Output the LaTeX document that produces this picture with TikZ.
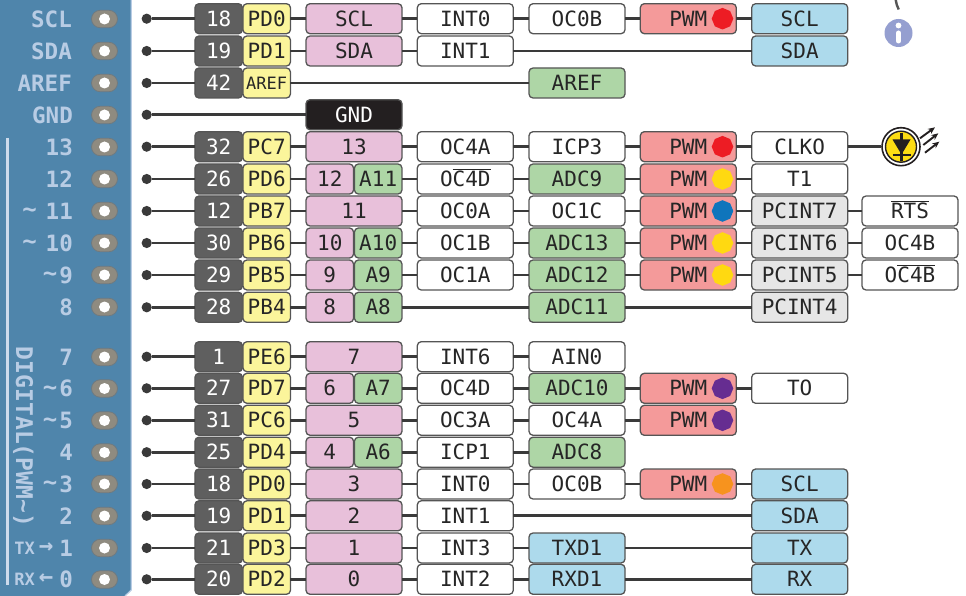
\documentclass[tikz,border=0pt]{standalone}
\usepackage{fontspec}
\setmainfont{DejaVu Sans Mono}
\usetikzlibrary{shapes.geometric,shapes.misc,arrows.meta}
\definecolor{panelblue}{HTML}{4F85AB}
\definecolor{panelink}{HTML}{B8CCE4}
\definecolor{boxline}{HTML}{555555}
\definecolor{wire}{HTML}{3A3A3A}
\definecolor{boxink}{HTML}{262626}
\definecolor{padfill}{HTML}{8F8B80}
\definecolor{padline}{HTML}{6F7A80}
\definecolor{numfill}{HTML}{5F5F5F}
\definecolor{portfill}{HTML}{FBF59B}
\definecolor{pink1}{HTML}{E8C0DA}
\definecolor{green1}{HTML}{AED6A6}
\definecolor{red1}{HTML}{F49A9A}
\definecolor{blue1}{HTML}{ADDAEC}
\definecolor{gray1}{HTML}{E6E6E6}
\definecolor{black1}{HTML}{231F20}
\definecolor{pwmred}{HTML}{ED1C24}
\definecolor{pwmyellow}{HTML}{FFD911}
\definecolor{pwmblue}{HTML}{0F75BC}
\definecolor{pwmpurple}{HTML}{662D91}
\definecolor{pwmorange}{HTML}{F7931E}
\definecolor{infoblue}{HTML}{959FD0}
\definecolor{ledyellow}{HTML}{FCDC14}
\tikzset{
  box/.style={draw=boxline,line width=1.3pt,rounded corners=4pt,inner sep=0pt,outer sep=0pt,
    minimum height=30pt,minimum width=96pt,text height=15.2pt,text depth=0pt,text=boxink,
    font=\fontsize{21}{21}\selectfont},
  numbox/.style={box,fill=numfill,text=white,minimum width=47.5pt},
  portbox/.style={box,fill=portfill,minimum width=47.5pt},
  smallport/.style={portbox,text height=12.4pt,font=\fontsize{17}{17}\selectfont},
  pinbox/.style={box,fill=pink1},
  halfpin/.style={box,fill=pink1,minimum width=47.5pt},
  halfana/.style={box,fill=green1,minimum width=47.5pt},
  blackbox/.style={box,fill=black1,text=white},
  plainbox/.style={box,fill=white},
  anabox/.style={box,fill=green1},
  pwmbox/.style={box,fill=red1},
  busbox/.style={box,fill=blue1},
  intbox/.style={box,fill=gray1},
  pwmdot/.style={regular polygon,regular polygon sides=8,shape border rotate=22.5,inner sep=0pt,minimum size=21.6pt},
  wirel/.style={line width=2.7pt,color=wire},
  enddot/.style={circle,fill=wire,inner sep=0pt,minimum size=10.2pt},
  pad/.style={rounded rectangle,draw=padline,line width=0.8pt,fill=padfill,minimum width=26pt,minimum height=17.5pt,inner sep=0pt},
  hole/.style={circle,fill=white,inner sep=0pt,minimum size=11pt},
  pinlabel/.style={anchor=east,inner sep=0pt,text=panelink,font=\fontsize{22.5}{22.5}\selectfont\bfseries},
  tilde/.style={inner sep=0pt,text=panelink,font=\fontsize{24}{24}\selectfont\bfseries},
  txlabel/.style={anchor=east,inner sep=0pt,text=panelink,font=\fontsize{17}{17}\selectfont\bfseries}
}
\begin{document}
\begin{tikzpicture}[x=1pt,y=-1pt]
\useasboundingbox (0,0) rectangle (966,596);
\fill[panelblue] (0,0)--(131,0)--(131,590)--(125,596)--(0,596)--cycle;
\draw[panelink,line width=1.2pt] (131.3,0)--(131.3,590)--(125,596);
\draw[panelink!70!white,line width=2.7pt] (7.5,138)--(7.5,585);
\node [pinlabel,font=\fontsize{23}{23}\selectfont\bfseries,anchor=center,rotate=-90,name=digital] at (23.3,437){DIGITAL(PWM\textasciitilde)};
% panel labels
\node [pinlabel,name=l1] at (72,19){SCL};
\node [pinlabel,name=l2] at (72,51){SDA};
\node [pinlabel,name=l3] at (72,83){AREF};
\node [pinlabel,name=l4] at (73,115){GND};
\node [pinlabel,name=l5] at (73,147){13};
\node [pinlabel,name=l6] at (73,179){12};
\node [pinlabel,name=l7] at (73,211){11};
\node [pinlabel,name=l8] at (73,243){10};
\node [pinlabel,name=l9] at (73,275){9};
\node [pinlabel,name=l10] at (73,307){8};
\node [pinlabel,name=l11] at (73,357){7};
\node [pinlabel,name=l12] at (73,388.5){6};
\node [pinlabel,name=l13] at (73,420.5){5};
\node [pinlabel,name=l14] at (73,452.5){4};
\node [pinlabel,name=l15] at (73,484){3};
\node [pinlabel,name=l16] at (73,516){2};
\node [pinlabel,name=l17] at (73,548){1};
\node [pinlabel,name=l18] at (73,579.5){0};
\node [tilde,name=m7] at (29.5,213){\textasciitilde};
\node [tilde,name=m8] at (29.5,245){\textasciitilde};
\node [tilde,name=m9] at (50,277){\textasciitilde};
\node [tilde,name=m12] at (50,390.5){\textasciitilde};
\node [tilde,name=m13] at (50,422.5){\textasciitilde};
\node [tilde,name=m15] at (50,486){\textasciitilde};
\node [txlabel,name=tx] at (35,548){TX};
\node [tilde,name=txa] at (46,548){→};
\node [txlabel,name=rx] at (35,579.5){RX};
\node [tilde,name=rxa] at (46,579.5){←};
% pads
\node [pad,name=h1] at (104.5,19){};
\node [pad,name=h2] at (104.5,51){};
\node [pad,name=h3] at (104.5,83){};
\node [pad,name=h4] at (104.5,115){};
\node [pad,name=h5] at (104.5,147){};
\node [pad,name=h6] at (104.5,179){};
\node [pad,name=h7] at (104.5,211){};
\node [pad,name=h8] at (104.5,243){};
\node [pad,name=h9] at (104.5,275){};
\node [pad,name=h10] at (104.5,307){};
\node [pad,name=h11] at (104.5,357){};
\node [pad,name=h12] at (104.5,388.5){};
\node [pad,name=h13] at (104.5,420.5){};
\node [pad,name=h14] at (104.5,452.5){};
\node [pad,name=h15] at (104.5,484){};
\node [pad,name=h16] at (104.5,516){};
\node [pad,name=h17] at (104.5,548){};
\node [pad,name=h18] at (104.5,579.5){};
\node [hole,name=o1] at (h1){};
\node [hole,name=o2] at (h2){};
\node [hole,name=o3] at (h3){};
\node [hole,name=o4] at (h4){};
\node [hole,name=o5] at (h5){};
\node [hole,name=o6] at (h6){};
\node [hole,name=o7] at (h7){};
\node [hole,name=o8] at (h8){};
\node [hole,name=o9] at (h9){};
\node [hole,name=o10] at (h10){};
\node [hole,name=o11] at (h11){};
\node [hole,name=o12] at (h12){};
\node [hole,name=o13] at (h13){};
\node [hole,name=o14] at (h14){};
\node [hole,name=o15] at (h15){};
\node [hole,name=o16] at (h16){};
\node [hole,name=o17] at (h17){};
\node [hole,name=o18] at (h18){};
% row ends
\node [enddot,name=d1] at (146.7,18.7){};
\node [enddot,name=d2] at (146.7,51){};
\node [enddot,name=d3] at (146.7,83){};
\node [enddot,name=d4] at (146.7,114.7){};
\node [enddot,name=d5] at (146.7,146.7){};
\node [enddot,name=d6] at (146.7,179){};
\node [enddot,name=d7] at (146.7,211){};
\node [enddot,name=d8] at (146.7,243){};
\node [enddot,name=d9] at (146.7,275){};
\node [enddot,name=d10] at (146.7,307.3){};
\node [enddot,name=d11] at (146.7,356.7){};
\node [enddot,name=d12] at (146.7,388.3){};
\node [enddot,name=d13] at (146.7,420.3){};
\node [enddot,name=d14] at (146.7,452.2){};
\node [enddot,name=d15] at (146.7,484){};
\node [enddot,name=d16] at (146.7,515.8){};
\node [enddot,name=d17] at (146.7,548){};
\node [enddot,name=d18] at (146.7,579.3){};
% chip pins
\node [numbox,name=n1] at (218.7,18.7){18};
\node [numbox,name=n2] at (218.7,51){19};
\node [numbox,name=n3] at (218.7,83){42};
\node [numbox,name=n5] at (218.7,146.7){32};
\node [numbox,name=n6] at (218.7,179){26};
\node [numbox,name=n7] at (218.7,211){12};
\node [numbox,name=n8] at (218.7,243){30};
\node [numbox,name=n9] at (218.7,275){29};
\node [numbox,name=n10] at (218.7,307.3){28};
\node [numbox,name=n11] at (218.7,356.7){1};
\node [numbox,name=n12] at (218.7,388.3){27};
\node [numbox,name=n13] at (218.7,420.3){31};
\node [numbox,name=n14] at (218.7,452.2){25};
\node [numbox,name=n15] at (218.7,484){18};
\node [numbox,name=n16] at (218.7,515.8){19};
\node [numbox,name=n17] at (218.7,548){21};
\node [numbox,name=n18] at (218.7,579.3){20};
\node [portbox,name=p1] at (266.7,18.7){PD0};
\node [portbox,name=p2] at (266.7,51){PD1};
\node [smallport,name=p3] at (266.7,83){AREF};
\node [portbox,name=p5] at (266.7,146.7){PC7};
\node [portbox,name=p6] at (266.7,179){PD6};
\node [portbox,name=p7] at (266.7,211){PB7};
\node [portbox,name=p8] at (266.7,243){PB6};
\node [portbox,name=p9] at (266.7,275){PB5};
\node [portbox,name=p10] at (266.7,307.3){PB4};
\node [portbox,name=p11] at (266.7,356.7){PE6};
\node [portbox,name=p12] at (266.7,388.3){PD7};
\node [portbox,name=p13] at (266.7,420.3){PC6};
\node [portbox,name=p14] at (266.7,452.2){PD4};
\node [portbox,name=p15] at (266.7,484){PD0};
\node [portbox,name=p16] at (266.7,515.8){PD1};
\node [portbox,name=p17] at (266.7,548){PD3};
\node [portbox,name=p18] at (266.7,579.3){PD2};
% board pins
\node [pinbox,name=s1] at (354,18.7){SCL};
\node [pinbox,name=s2] at (354,51){SDA};
\node [blackbox,name=s4] at (354,114.7){GND};
\node [pinbox,name=s5] at (354,146.7){13};
\node [halfpin,name=s6] at (329.8,179){12};
\node [halfana,name=g6] at (378.2,179){A11};
\node [pinbox,name=s7] at (354,211){11};
\node [halfpin,name=s8] at (329.8,243){10};
\node [halfana,name=g8] at (378.2,243){A10};
\node [halfpin,name=s9] at (329.8,275){9};
\node [halfana,name=g9] at (378.2,275){A9};
\node [halfpin,name=s10] at (329.8,307.3){8};
\node [halfana,name=g10] at (378.2,307.3){A8};
\node [pinbox,name=s11] at (354,356.7){7};
\node [halfpin,name=s12] at (329.8,388.3){6};
\node [halfana,name=g12] at (378.2,388.3){A7};
\node [pinbox,name=s13] at (354,420.3){5};
\node [halfpin,name=s14] at (329.8,452.2){4};
\node [halfana,name=g14] at (378.2,452.2){A6};
\node [pinbox,name=s15] at (354,484){3};
\node [pinbox,name=s16] at (354,515.8){2};
\node [pinbox,name=s17] at (354,548){1};
\node [pinbox,name=s18] at (354,579.3){0};
% third column
\node [plainbox,name=c1] at (465.3,18.7){INT0};
\node [plainbox,name=c2] at (465.3,51){INT1};
\node [plainbox,name=c5] at (465.3,146.7){OC4A};
\node [plainbox,name=c6] at (465.3,179){O$\overline{\mbox{C4D}}$};
\node [plainbox,name=c7] at (465.3,211){OC0A};
\node [plainbox,name=c8] at (465.3,243){OC1B};
\node [plainbox,name=c9] at (465.3,275){OC1A};
\node [plainbox,name=c11] at (465.3,356.7){INT6};
\node [plainbox,name=c12] at (465.3,388.3){OC4D};
\node [plainbox,name=c13] at (465.3,420.3){OC3A};
\node [plainbox,name=c14] at (465.3,452.2){ICP1};
\node [plainbox,name=c15] at (465.3,484){INT0};
\node [plainbox,name=c16] at (465.3,515.8){INT1};
\node [plainbox,name=c17] at (465.3,548){INT3};
\node [plainbox,name=c18] at (465.3,579.3){INT2};
% fourth column
\node [plainbox,name=e1] at (577,18.7){OC0B};
\node [anabox,name=e3] at (577,83){AREF};
\node [plainbox,name=e5] at (577,146.7){ICP3};
\node [anabox,name=e6] at (577,179){ADC9};
\node [plainbox,name=e7] at (577,211){OC1C};
\node [anabox,name=e8] at (577,243){ADC13};
\node [anabox,name=e9] at (577,275){ADC12};
\node [anabox,name=e10] at (577,307.3){ADC11};
\node [plainbox,name=e11] at (577,356.7){AIN0};
\node [anabox,name=e12] at (577,388.3){ADC10};
\node [plainbox,name=e13] at (577,420.3){OC4A};
\node [anabox,name=e14] at (577,452.2){ADC8};
\node [plainbox,name=e15] at (577,484){OC0B};
\node [busbox,name=e17] at (577,548){TXD1};
\node [busbox,name=e18] at (577,579.3){RXD1};
% pwm column
\node [pwmbox,name=w1] at (688.3,18.7){PWM};
\node [pwmbox,name=w5] at (688.3,146.7){PWM};
\node [pwmbox,name=w6] at (688.3,179){PWM};
\node [pwmbox,name=w7] at (688.3,211){PWM};
\node [pwmbox,name=w8] at (688.3,243){PWM};
\node [pwmbox,name=w9] at (688.3,275){PWM};
\node [pwmbox,name=w12] at (688.3,388.3){PWM};
\node [pwmbox,name=w13] at (688.3,420.3){PWM};
\node [pwmbox,name=w15] at (688.3,484){PWM};
\node [pwmdot,fill=pwmred,name=k1] at (722.5,18.7){};
\node [pwmdot,fill=pwmred,name=k5] at (722.5,146.7){};
\node [pwmdot,fill=pwmyellow,name=k6] at (722.5,179){};
\node [pwmdot,fill=pwmblue,name=k7] at (722.5,211){};
\node [pwmdot,fill=pwmyellow,name=k8] at (722.5,243){};
\node [pwmdot,fill=pwmyellow,name=k9] at (722.5,275){};
\node [pwmdot,fill=pwmpurple,name=k12] at (722.5,388.3){};
\node [pwmdot,fill=pwmpurple,name=k13] at (722.5,420.3){};
\node [pwmdot,fill=pwmorange,name=k15] at (722.5,484){};
% sixth and seventh columns
\node [busbox,name=t1] at (799.7,18.7){SCL};
\node [busbox,name=t2] at (799.7,51){SDA};
\node [plainbox,name=t5] at (799.7,146.7){CLKO};
\node [plainbox,name=t6] at (799.7,179){T1};
\node [intbox,name=t7] at (799.7,211){PCINT7};
\node [intbox,name=t8] at (799.7,243){PCINT6};
\node [intbox,name=t9] at (799.7,275){PCINT5};
\node [intbox,name=t10] at (799.7,307.3){PCINT4};
\node [plainbox,name=t12] at (799.7,388.3){TO};
\node [busbox,name=t15] at (799.7,484){SCL};
\node [busbox,name=t16] at (799.7,515.8){SDA};
\node [busbox,name=t17] at (799.7,548){TX};
\node [busbox,name=t18] at (799.7,579.3){RX};
\node [plainbox,name=u7] at (910,211){$\overline{\mbox{RTS}}$};
\node [plainbox,name=u8] at (910,243){OC4B};
\node [plainbox,name=u9] at (910,275){O$\overline{\mbox{C4B}}$};
% led and info
\node [draw=black1,line width=1.6pt,shape=circle,fill=white,minimum size=38pt,inner sep=0pt,name=led] at (901,146.7){};
\node [draw=black1,line width=1.4pt,shape=circle,fill=ledyellow,minimum size=31pt,inner sep=0pt,name=ledin] at (led){};
\fill[black1] (892.5,139.5)--(910.5,139.5)--(901.5,154.5)--cycle;
\draw[black1,line width=2.2pt] (901.5,133.5)--(901.5,161) (892.5,155)--(910.5,155);
\draw[black1,line width=1.9pt,-{Stealth[length=7pt,width=6pt]}] (920,138.3)--(935,127.3);
\draw[black1,line width=1.9pt,-{Stealth[length=7pt,width=6pt]}] (923.3,145)--(938.3,133.3);
\draw[black1,line width=1.9pt,-{Stealth[length=7pt,width=6pt]}] (925,152.7)--(939.3,141.7);
\node [shape=circle,fill=infoblue,minimum size=28pt,inner sep=0pt,name=info] at (898.5,33){};
\fill[white] (898.5,25.5) circle (2.9);
\draw[white,line width=5pt,line cap=round] (898.5,33)--(898.5,41);
\draw[boxline,line width=2.4pt] (895.7,0) to[bend right=8] (898.7,9.5);
% wires
\draw[wirel] (d1)--(n1);
\draw[wirel] (d2)--(n2);
\draw[wirel] (d3)--(n3);
\draw[wirel] (d4)--(s4);
\draw[wirel] (d5)--(n5);
\draw[wirel] (d6)--(n6);
\draw[wirel] (d7)--(n7);
\draw[wirel] (d8)--(n8);
\draw[wirel] (d9)--(n9);
\draw[wirel] (d10)--(n10);
\draw[wirel] (d11)--(n11);
\draw[wirel] (d12)--(n12);
\draw[wirel] (d13)--(n13);
\draw[wirel] (d14)--(n14);
\draw[wirel] (d15)--(n15);
\draw[wirel] (d16)--(n16);
\draw[wirel] (d17)--(n17);
\draw[wirel] (d18)--(n18);
\draw[wirel] (p1)--(s1);
\draw[wirel] (p2)--(s2);
\draw[wirel] (p3)--(e3);
\draw[wirel] (p5)--(s5);
\draw[wirel] (p6)--(s6);
\draw[wirel] (p7)--(s7);
\draw[wirel] (p8)--(s8);
\draw[wirel] (p9)--(s9);
\draw[wirel] (p10)--(s10);
\draw[wirel] (p11)--(s11);
\draw[wirel] (p12)--(s12);
\draw[wirel] (p13)--(s13);
\draw[wirel] (p14)--(s14);
\draw[wirel] (p15)--(s15);
\draw[wirel] (p16)--(s16);
\draw[wirel] (p17)--(s17);
\draw[wirel] (p18)--(s18);
\draw[wirel] (s1)--(c1);
\draw[wirel] (s2)--(c2);
\draw[wirel] (s5)--(c5);
\draw[wirel] (g6)--(c6);
\draw[wirel] (s7)--(c7);
\draw[wirel] (g8)--(c8);
\draw[wirel] (g9)--(c9);
\draw[wirel] (g10)--(e10);
\draw[wirel] (s11)--(c11);
\draw[wirel] (g12)--(c12);
\draw[wirel] (s13)--(c13);
\draw[wirel] (g14)--(c14);
\draw[wirel] (s15)--(c15);
\draw[wirel] (s16)--(c16);
\draw[wirel] (s17)--(c17);
\draw[wirel] (s18)--(c18);
\draw[wirel] (c1)--(e1);
\draw[wirel] (c2)--(t2);
\draw[wirel] (c5)--(e5);
\draw[wirel] (c6)--(e6);
\draw[wirel] (c7)--(e7);
\draw[wirel] (c8)--(e8);
\draw[wirel] (c9)--(e9);
\draw[wirel] (c11)--(e11);
\draw[wirel] (c12)--(e12);
\draw[wirel] (c13)--(e13);
\draw[wirel] (c14)--(e14);
\draw[wirel] (c15)--(e15);
\draw[wirel] (c16)--(t16);
\draw[wirel] (c17)--(e17);
\draw[wirel] (c18)--(e18);
\draw[wirel] (e1)--(w1);
\draw[wirel] (e5)--(w5);
\draw[wirel] (e6)--(w6);
\draw[wirel] (e7)--(w7);
\draw[wirel] (e8)--(w8);
\draw[wirel] (e9)--(w9);
\draw[wirel] (e10)--(t10);
\draw[wirel] (e12)--(w12);
\draw[wirel] (e13)--(w13);
\draw[wirel] (e15)--(w15);
\draw[wirel] (e17)--(t17);
\draw[wirel] (e18)--(t18);
\draw[wirel] (w1)--(t1);
\draw[wirel] (w5)--(t5);
\draw[wirel] (w6)--(t6);
\draw[wirel] (w7)--(t7);
\draw[wirel] (w8)--(t8);
\draw[wirel] (w9)--(t9);
\draw[wirel] (w12)--(t12);
\draw[wirel] (w15)--(t15);
\draw[wirel] (t5)--(led);
\draw[wirel] (t7)--(u7);
\draw[wirel] (t8)--(u8);
\draw[wirel] (t9)--(u9);
\end{tikzpicture}
\end{document}
